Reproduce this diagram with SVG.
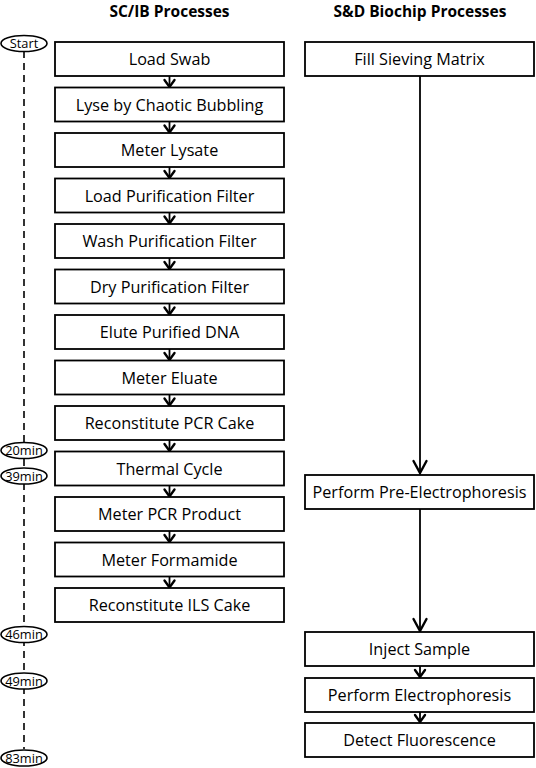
<svg xmlns="http://www.w3.org/2000/svg" width="536" height="768" viewBox="0 0 536 768">
<defs>
<style>
.box{fill:#fff;stroke:#000;stroke-width:1.8}
.t{font-family:"Open Sans","Liberation Sans",sans-serif;font-size:16.2px;text-anchor:middle;fill:#000}
.h{font-family:"Open Sans","Liberation Sans",sans-serif;font-size:15.5px;font-weight:bold;text-anchor:middle;fill:#000}
.el{fill:#fff;stroke:#000;stroke-width:1.6}
.et{font-family:"Open Sans","Liberation Sans",sans-serif;font-size:12.8px;text-anchor:middle;fill:#000}
.c{stroke:#000;stroke-width:1.8;fill:none}
.ah{stroke:#000;stroke-width:2.4;fill:none;stroke-linecap:round;stroke-linejoin:miter}
</style>
</defs>
<rect width="536" height="768" fill="#fff"/>
<text class="h" x="169.5" y="17">SC/IB Processes</text>
<text class="h" x="420" y="17">S&amp;D Biochip Processes</text>

<g id="timeline">
<line x1="24" y1="51" x2="24" y2="749" stroke="#000" stroke-width="1.6" stroke-dasharray="7,5"/>
</g>

<g id="connectors">
<line class="c" x1="169.5" y1="76" x2="169.5" y2="88"/><polyline class="ah" points="164.5,80 169.5,87 174.5,80"/>
<line class="c" x1="169.5" y1="121.5" x2="169.5" y2="133.5"/><polyline class="ah" points="164.5,125.5 169.5,132.5 174.5,125.5"/>
<line class="c" x1="169.5" y1="167" x2="169.5" y2="179"/><polyline class="ah" points="164.5,171 169.5,178 174.5,171"/>
<line class="c" x1="169.5" y1="212.5" x2="169.5" y2="224.5"/><polyline class="ah" points="164.5,216.5 169.5,223.5 174.5,216.5"/>
<line class="c" x1="169.5" y1="258" x2="169.5" y2="270"/><polyline class="ah" points="164.5,262 169.5,269 174.5,262"/>
<line class="c" x1="169.5" y1="303.5" x2="169.5" y2="315.5"/><polyline class="ah" points="164.5,307.5 169.5,314.5 174.5,307.5"/>
<line class="c" x1="169.5" y1="349" x2="169.5" y2="361"/><polyline class="ah" points="164.5,353 169.5,360 174.5,353"/>
<line class="c" x1="169.5" y1="394.5" x2="169.5" y2="406.5"/><polyline class="ah" points="164.5,398.5 169.5,405.5 174.5,398.5"/>
<line class="c" x1="169.5" y1="440" x2="169.5" y2="452"/><polyline class="ah" points="164.5,444 169.5,451 174.5,444"/>
<line class="c" x1="169.5" y1="485.5" x2="169.5" y2="497.5"/><polyline class="ah" points="164.5,489.5 169.5,496.5 174.5,489.5"/>
<line class="c" x1="169.5" y1="531" x2="169.5" y2="543"/><polyline class="ah" points="164.5,535 169.5,542 174.5,535"/>
<line class="c" x1="169.5" y1="576.5" x2="169.5" y2="588.5"/><polyline class="ah" points="164.5,580.5 169.5,587.5 174.5,580.5"/>

<line class="c" x1="420" y1="76" x2="420" y2="474"/><polyline class="ah" points="413.5,461 420,473 426.5,461"/>
<line class="c" x1="420" y1="509" x2="420" y2="631"/><polyline class="ah" points="413.5,619 420,631 426.5,619"/>
<line class="c" x1="420" y1="666" x2="420" y2="678"/><polyline class="ah" points="415,670 420,677 425,670"/>
<line class="c" x1="420" y1="712" x2="420" y2="723"/><polyline class="ah" points="415,715 420,722 425,715"/>
</g>

<g id="n-load-swab"><rect class="box" x="55" y="42" width="229" height="34"/><text class="t" x="169.5" y="65">Load Swab</text></g>
<g id="n-lyse"><rect class="box" x="55" y="87.5" width="229" height="34"/><text class="t" x="169.5" y="110.5">Lyse by Chaotic Bubbling</text></g>
<g id="n-meter-lysate"><rect class="box" x="55" y="133" width="229" height="34"/><text class="t" x="169.5" y="156">Meter Lysate</text></g>
<g id="n-load-purif"><rect class="box" x="55" y="178.5" width="229" height="34"/><text class="t" x="169.5" y="201.5">Load Purification Filter</text></g>
<g id="n-wash-purif"><rect class="box" x="55" y="224" width="229" height="34"/><text class="t" x="169.5" y="247">Wash Purification Filter</text></g>
<g id="n-dry-purif"><rect class="box" x="55" y="269.5" width="229" height="34"/><text class="t" x="169.5" y="292.5">Dry Purification Filter</text></g>
<g id="n-elute"><rect class="box" x="55" y="315" width="229" height="34"/><text class="t" x="169.5" y="338">Elute Purified DNA</text></g>
<g id="n-meter-eluate"><rect class="box" x="55" y="360.5" width="229" height="34"/><text class="t" x="169.5" y="383.5">Meter Eluate</text></g>
<g id="n-recon-pcr"><rect class="box" x="55" y="406" width="229" height="34"/><text class="t" x="169.5" y="429">Reconstitute PCR Cake</text></g>
<g id="n-thermal"><rect class="box" x="55" y="451.5" width="229" height="34"/><text class="t" x="169.5" y="474.5">Thermal Cycle</text></g>
<g id="n-meter-pcr"><rect class="box" x="55" y="497" width="229" height="34"/><text class="t" x="169.5" y="520">Meter PCR Product</text></g>
<g id="n-meter-form"><rect class="box" x="55" y="542.5" width="229" height="34"/><text class="t" x="169.5" y="565.5">Meter Formamide</text></g>
<g id="n-recon-ils"><rect class="box" x="55" y="588" width="229" height="34"/><text class="t" x="169.5" y="611">Reconstitute ILS Cake</text></g>

<g id="n-fill"><rect class="box" x="305" y="42" width="229" height="34"/><text class="t" x="419.5" y="65">Fill Sieving Matrix</text></g>
<g id="n-pre-ep"><rect class="box" x="305" y="475" width="229" height="34"/><text class="t" x="419.5" y="498">Perform Pre-Electrophoresis</text></g>
<g id="n-inject"><rect class="box" x="305" y="632" width="229" height="34"/><text class="t" x="419.5" y="655">Inject Sample</text></g>
<g id="n-ep"><rect class="box" x="305" y="678" width="229" height="34"/><text class="t" x="419.5" y="701">Perform Electrophoresis</text></g>
<g id="n-detect"><rect class="box" x="305" y="723" width="229" height="34"/><text class="t" x="419.5" y="746">Detect Fluorescence</text></g>

<g id="t-start"><ellipse class="el" cx="24" cy="43.5" rx="23" ry="8"/><text class="et" x="24" y="48">Start</text></g>
<g id="t-20"><ellipse class="el" cx="24" cy="450.5" rx="23" ry="8"/><text class="et" x="24" y="455">20min</text></g>
<g id="t-39"><ellipse class="el" cx="24" cy="476" rx="23" ry="8"/><text class="et" x="24" y="480.5">39min</text></g>
<g id="t-46"><ellipse class="el" cx="24" cy="634.5" rx="23" ry="8"/><text class="et" x="24" y="639">46min</text></g>
<g id="t-49"><ellipse class="el" cx="24" cy="681" rx="23" ry="8"/><text class="et" x="24" y="685.5">49min</text></g>
<g id="t-83"><ellipse class="el" cx="24" cy="758" rx="23" ry="8"/><text class="et" x="24" y="762.5">83min</text></g>
</svg>
